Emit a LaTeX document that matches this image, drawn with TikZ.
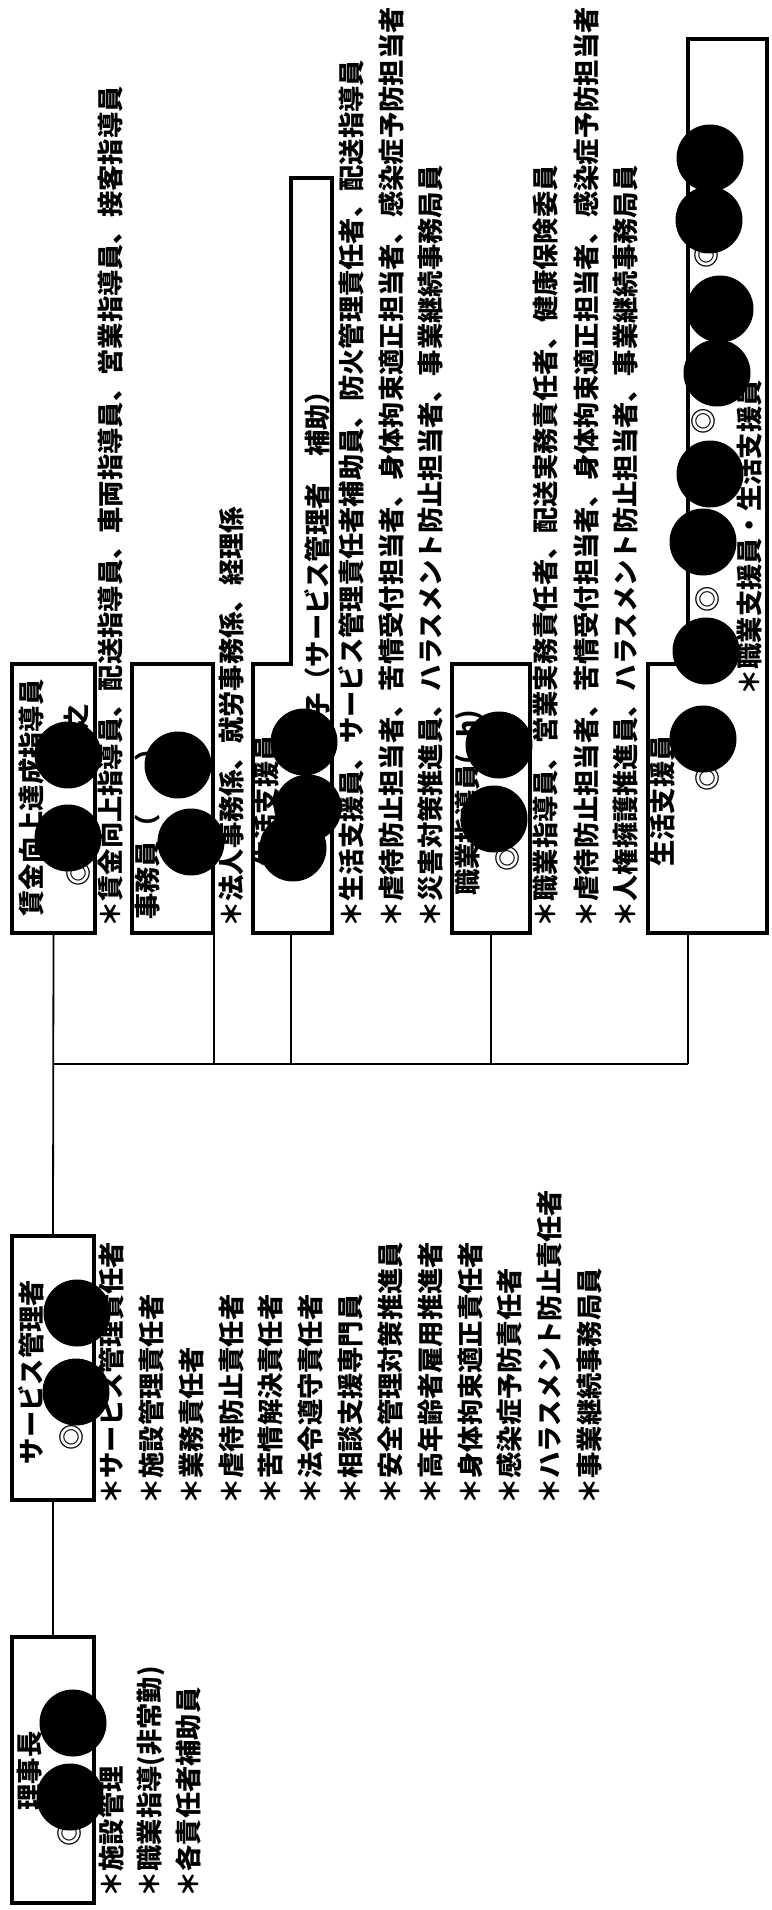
\documentclass[tikz,border=0pt]{standalone}
\usepackage{fontspec}
\setmainfont{Noto Sans CJK JP}
\begin{document}
\begin{tikzpicture}[x=1pt,y=-1pt,
  box/.style={draw, line width=3.5pt, inner sep=0pt},
  link/.style={line width=1.8pt},
  txt/.style={rotate=90, inner sep=0pt, font=\fontsize{26.3}{30}\selectfont\bfseries, text height=23.1pt, text depth=3.2pt},
  st/.style={txt, anchor=west},
  en/.style={txt, anchor=east},
  blob/.style={circle, fill=black, minimum size=67pt, inner sep=0pt}]
\useasboundingbox (0,0) rectangle (771,1910);

% ---------- boxes ----------
\node[box, minimum width=82pt, minimum height=266pt] (rj) at (53,1770) {};
\node[box, minimum width=82pt, minimum height=264pt] (sv) at (53,1368) {};
\node[box, minimum width=83pt, minimum height=269pt] (b1) at (53.5,798.5) {};
\node[box, minimum width=81pt, minimum height=269pt] (b2) at (172.5,798.5) {};
\node[box, minimum width=78pt, minimum height=269pt] (b4) at (491,798.5) {};
\draw[line width=3.5pt] (253,933) -- (253,664) -- (291,664) -- (291,178) -- (332,178) -- (332,933) -- cycle;
\draw[line width=3.5pt] (648,933) -- (648,664) -- (688,664) -- (688,39) -- (767,39) -- (767,933) -- cycle;
\coordinate (b3) at (291,933);
\coordinate (b5) at (688,933);

% ---------- connectors ----------
\coordinate (busL) at (53,1064);
\coordinate (busR) at (688,1064);
\draw[link] (b1.south) -- (sv.north);
\draw[link] (sv.south) -- (rj.north);
\draw[link] (busL) -- (busR);
\draw[link] ([xshift=-1pt]b2.south east) -- ([xshift=-1pt]b2.south east |- busL);
\draw[link] (b3) -- (b3 |- busL);
\draw[link] (b4.south) -- (b4.south |- busL);
\draw[link] (b5) -- (busR);

% ---------- box labels ----------
\node[txt] (l_rj) at (30,1771) {理事長};
\node[txt] (m_rj) at (70,1833) {◎};
\node[txt] (l_sv) at (32,1372) {サービス管理者};
\node[txt] (m_sv) at (72,1437) {◎};
\node[txt] (l_b1) at (32,798) {賃金向上達成指導員};
\node[txt] (m_b1) at (79,873) {◎};
\node[txt] (n_b1) at (77,717) {之};
\node[st] (l_b2) at (148,920) {事務員（};
\node[en] (r_b2) at (148,735) {）};
\node[st] (l_b3) at (267,867) {生活支援員};
\node[st] (s_b3) at (318,720) {子（サービス管理者　補助）};
\node[st] (l_b4) at (468,896) {職業指導員(\phantom{0}h)};
\node[txt] (m_b4) at (508,858) {◎};
\node[st] (l_b5) at (663,867) {生活支援員};
\node[txt] (m_b5a) at (708,778) {◎};
\node[txt] (m_b5b) at (708,599) {◎};
\node[txt] (m_b5c) at (704,421) {◎};
\node[txt] (m_b5d) at (707,255) {◎};
\node[st] (s_b5) at (750,696) {＊職業支援員・生活支援員};

% ---------- lists ----------
\node[st] at (112,1898) {＊施設管理};
\node[st] at (150,1898) {＊職業指導(非常勤)};
\node[st] at (189,1898) {＊各責任者補助員};

\node[st] at (112,1505) {＊サービス管理責任者};
\node[st] at (152,1505) {＊施設管理責任者};
\node[st] at (192,1505) {＊業務責任者};
\node[st] at (232,1505) {＊虐待防止責任者};
\node[st] at (271,1505) {＊苦情解決責任者};
\node[st] at (311,1505) {＊法令遵守責任者};
\node[st] at (351,1505) {＊相談支援専門員};
\node[st] at (391,1505) {＊安全管理対策推進員};
\node[st] at (431,1505) {＊高年齢者雇用推進者};
\node[st] at (471,1505) {＊身体拘束適正責任者};
\node[st] at (510,1505) {＊感染症予防責任者};
\node[st] at (550,1505) {＊ハラスメント防止責任者};
\node[st] at (590,1505) {＊事業継続事務局員};

\node[st] at (111,928) {＊賃金向上指導員、配送指導員、車両指導員、営業指導員、接客指導員};
\node[st] at (232,928) {＊法人事務係、就労事務係、経理係};
\node[st] at (352,928) {＊生活支援員、サービス管理責任者補助員、防火管理責任者、配送指導員};
\node[st] at (392,928) {＊虐待防止担当者、苦情受付担当者、身体拘束適正担当者、感染症予防担当者};
\node[st] at (431,928) {＊災害対策推進員、ハラスメント防止担当者、事業継続事務局員};
\node[st] at (546,928) {＊職業指導員、営業実務責任者、配送実務責任者、健康保険委員};
\node[st] at (587,928) {＊虐待防止担当者、苦情受付担当者、身体拘束適正担当者、感染症予防担当者};
\node[st] at (626,928) {＊人権擁護推進員、ハラスメント防止担当者、事業継続事務局員};

% ---------- redaction blobs ----------
\node[blob] (k1) at (73,1723) {};
\node[blob] (k2) at (70,1797) {};
\node[blob] (k3) at (77,1313) {};
\node[blob] (k4) at (76,1392) {};
\node[blob] (k5) at (68,755) {};
\node[blob] (k6) at (68,838) {};
\node[blob] (k7) at (178,765) {};
\node[blob] (k8) at (191,842) {};
\node[blob] (k9) at (304,742) {};
\node[blob] (k10) at (308,808) {};
\node[blob] (k11) at (293,848) {};
\node[blob] (k12) at (499,745) {};
\node[blob] (k13) at (494,819) {};
\node[blob] (k14) at (710,158) {};
\node[blob] (k15) at (709,220) {};
\node[blob] (k16) at (720,309) {};
\node[blob] (k17) at (717,373) {};
\node[blob] (k18) at (710,474) {};
\node[blob] (k19) at (703,542) {};
\node[blob] (k20) at (706,651) {};
\node[blob] (k21) at (703,739) {};
\end{tikzpicture}
\end{document}
